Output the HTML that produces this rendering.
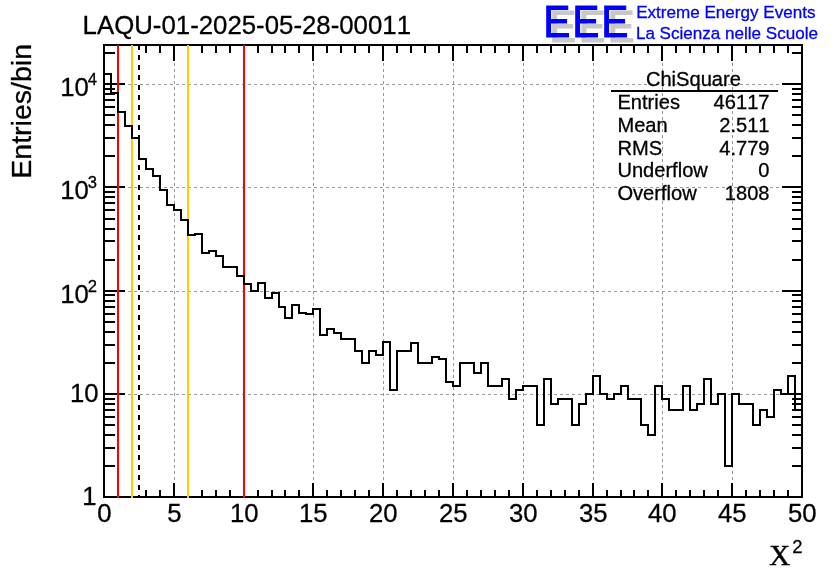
<!DOCTYPE html>
<html><head><meta charset="utf-8"><title>LAQU-01-2025-05-28-00011 ChiSquare</title>
<style>html,body{margin:0;padding:0;background:#fff}svg{display:block}text{font-kerning:none;stroke:#000;stroke-width:0.3px;font-family:"Liberation Sans",Arial,Helvetica,sans-serif;fill:#000}.ser{font-family:"Liberation Serif","Times New Roman",serif}</style></head><body>
<svg width="836" height="572" viewBox="0 0 836 572">
<rect width="836" height="572" fill="#fff"/>
<g stroke="#999999" stroke-width="1" stroke-dasharray="3 3" shape-rendering="crispEdges" fill="none">
<line x1="174.5" y1="45.0" x2="174.5" y2="497.0"/>
<line x1="244.5" y1="45.0" x2="244.5" y2="497.0"/>
<line x1="313.5" y1="45.0" x2="313.5" y2="497.0"/>
<line x1="383.5" y1="45.0" x2="383.5" y2="497.0"/>
<line x1="453.5" y1="45.0" x2="453.5" y2="497.0"/>
<line x1="523.5" y1="45.0" x2="523.5" y2="497.0"/>
<line x1="593.5" y1="45.0" x2="593.5" y2="497.0"/>
<line x1="662.5" y1="45.0" x2="662.5" y2="497.0"/>
<line x1="732.5" y1="45.0" x2="732.5" y2="497.0"/>
<line x1="104.0" y1="394.5" x2="802.0" y2="394.5"/>
<line x1="104.0" y1="291.5" x2="802.0" y2="291.5"/>
<line x1="104.0" y1="187.5" x2="802.0" y2="187.5"/>
<line x1="104.0" y1="84.5" x2="802.0" y2="84.5"/>
</g>
<g stroke="#000" stroke-width="2" shape-rendering="crispEdges" fill="none">
<rect x="104.0" y="45.0" width="698.0" height="452.0"/>
<line x1="118" y1="497.0" x2="118" y2="490.0"/>
<line x1="118" y1="45.0" x2="118" y2="53.0"/>
<line x1="132" y1="497.0" x2="132" y2="490.0"/>
<line x1="132" y1="45.0" x2="132" y2="53.0"/>
<line x1="146" y1="497.0" x2="146" y2="490.0"/>
<line x1="146" y1="45.0" x2="146" y2="53.0"/>
<line x1="160" y1="497.0" x2="160" y2="490.0"/>
<line x1="160" y1="45.0" x2="160" y2="53.0"/>
<line x1="174" y1="497.0" x2="174" y2="483.0"/>
<line x1="174" y1="45.0" x2="174" y2="61.0"/>
<line x1="188" y1="497.0" x2="188" y2="490.0"/>
<line x1="188" y1="45.0" x2="188" y2="53.0"/>
<line x1="202" y1="497.0" x2="202" y2="490.0"/>
<line x1="202" y1="45.0" x2="202" y2="53.0"/>
<line x1="216" y1="497.0" x2="216" y2="490.0"/>
<line x1="216" y1="45.0" x2="216" y2="53.0"/>
<line x1="230" y1="497.0" x2="230" y2="490.0"/>
<line x1="230" y1="45.0" x2="230" y2="53.0"/>
<line x1="244" y1="497.0" x2="244" y2="483.0"/>
<line x1="244" y1="45.0" x2="244" y2="61.0"/>
<line x1="258" y1="497.0" x2="258" y2="490.0"/>
<line x1="258" y1="45.0" x2="258" y2="53.0"/>
<line x1="272" y1="497.0" x2="272" y2="490.0"/>
<line x1="272" y1="45.0" x2="272" y2="53.0"/>
<line x1="285" y1="497.0" x2="285" y2="490.0"/>
<line x1="285" y1="45.0" x2="285" y2="53.0"/>
<line x1="299" y1="497.0" x2="299" y2="490.0"/>
<line x1="299" y1="45.0" x2="299" y2="53.0"/>
<line x1="313" y1="497.0" x2="313" y2="483.0"/>
<line x1="313" y1="45.0" x2="313" y2="61.0"/>
<line x1="327" y1="497.0" x2="327" y2="490.0"/>
<line x1="327" y1="45.0" x2="327" y2="53.0"/>
<line x1="341" y1="497.0" x2="341" y2="490.0"/>
<line x1="341" y1="45.0" x2="341" y2="53.0"/>
<line x1="355" y1="497.0" x2="355" y2="490.0"/>
<line x1="355" y1="45.0" x2="355" y2="53.0"/>
<line x1="369" y1="497.0" x2="369" y2="490.0"/>
<line x1="369" y1="45.0" x2="369" y2="53.0"/>
<line x1="383" y1="497.0" x2="383" y2="483.0"/>
<line x1="383" y1="45.0" x2="383" y2="61.0"/>
<line x1="397" y1="497.0" x2="397" y2="490.0"/>
<line x1="397" y1="45.0" x2="397" y2="53.0"/>
<line x1="411" y1="497.0" x2="411" y2="490.0"/>
<line x1="411" y1="45.0" x2="411" y2="53.0"/>
<line x1="425" y1="497.0" x2="425" y2="490.0"/>
<line x1="425" y1="45.0" x2="425" y2="53.0"/>
<line x1="439" y1="497.0" x2="439" y2="490.0"/>
<line x1="439" y1="45.0" x2="439" y2="53.0"/>
<line x1="453" y1="497.0" x2="453" y2="483.0"/>
<line x1="453" y1="45.0" x2="453" y2="61.0"/>
<line x1="467" y1="497.0" x2="467" y2="490.0"/>
<line x1="467" y1="45.0" x2="467" y2="53.0"/>
<line x1="481" y1="497.0" x2="481" y2="490.0"/>
<line x1="481" y1="45.0" x2="481" y2="53.0"/>
<line x1="495" y1="497.0" x2="495" y2="490.0"/>
<line x1="495" y1="45.0" x2="495" y2="53.0"/>
<line x1="509" y1="497.0" x2="509" y2="490.0"/>
<line x1="509" y1="45.0" x2="509" y2="53.0"/>
<line x1="523" y1="497.0" x2="523" y2="483.0"/>
<line x1="523" y1="45.0" x2="523" y2="61.0"/>
<line x1="537" y1="497.0" x2="537" y2="490.0"/>
<line x1="537" y1="45.0" x2="537" y2="53.0"/>
<line x1="551" y1="497.0" x2="551" y2="490.0"/>
<line x1="551" y1="45.0" x2="551" y2="53.0"/>
<line x1="565" y1="497.0" x2="565" y2="490.0"/>
<line x1="565" y1="45.0" x2="565" y2="53.0"/>
<line x1="579" y1="497.0" x2="579" y2="490.0"/>
<line x1="579" y1="45.0" x2="579" y2="53.0"/>
<line x1="593" y1="497.0" x2="593" y2="483.0"/>
<line x1="593" y1="45.0" x2="593" y2="61.0"/>
<line x1="607" y1="497.0" x2="607" y2="490.0"/>
<line x1="607" y1="45.0" x2="607" y2="53.0"/>
<line x1="621" y1="497.0" x2="621" y2="490.0"/>
<line x1="621" y1="45.0" x2="621" y2="53.0"/>
<line x1="634" y1="497.0" x2="634" y2="490.0"/>
<line x1="634" y1="45.0" x2="634" y2="53.0"/>
<line x1="648" y1="497.0" x2="648" y2="490.0"/>
<line x1="648" y1="45.0" x2="648" y2="53.0"/>
<line x1="662" y1="497.0" x2="662" y2="483.0"/>
<line x1="662" y1="45.0" x2="662" y2="61.0"/>
<line x1="676" y1="497.0" x2="676" y2="490.0"/>
<line x1="676" y1="45.0" x2="676" y2="53.0"/>
<line x1="690" y1="497.0" x2="690" y2="490.0"/>
<line x1="690" y1="45.0" x2="690" y2="53.0"/>
<line x1="704" y1="497.0" x2="704" y2="490.0"/>
<line x1="704" y1="45.0" x2="704" y2="53.0"/>
<line x1="718" y1="497.0" x2="718" y2="490.0"/>
<line x1="718" y1="45.0" x2="718" y2="53.0"/>
<line x1="732" y1="497.0" x2="732" y2="483.0"/>
<line x1="732" y1="45.0" x2="732" y2="61.0"/>
<line x1="746" y1="497.0" x2="746" y2="490.0"/>
<line x1="746" y1="45.0" x2="746" y2="53.0"/>
<line x1="760" y1="497.0" x2="760" y2="490.0"/>
<line x1="760" y1="45.0" x2="760" y2="53.0"/>
<line x1="774" y1="497.0" x2="774" y2="490.0"/>
<line x1="774" y1="45.0" x2="774" y2="53.0"/>
<line x1="788" y1="497.0" x2="788" y2="490.0"/>
<line x1="788" y1="45.0" x2="788" y2="53.0"/>
<line x1="104.0" y1="466" x2="115.0" y2="466"/>
<line x1="802.0" y1="466" x2="792.0" y2="466"/>
<line x1="104.0" y1="448" x2="115.0" y2="448"/>
<line x1="802.0" y1="448" x2="792.0" y2="448"/>
<line x1="104.0" y1="435" x2="115.0" y2="435"/>
<line x1="802.0" y1="435" x2="792.0" y2="435"/>
<line x1="104.0" y1="425" x2="115.0" y2="425"/>
<line x1="802.0" y1="425" x2="792.0" y2="425"/>
<line x1="104.0" y1="417" x2="115.0" y2="417"/>
<line x1="802.0" y1="417" x2="792.0" y2="417"/>
<line x1="104.0" y1="410" x2="115.0" y2="410"/>
<line x1="802.0" y1="410" x2="792.0" y2="410"/>
<line x1="104.0" y1="404" x2="115.0" y2="404"/>
<line x1="802.0" y1="404" x2="792.0" y2="404"/>
<line x1="104.0" y1="399" x2="115.0" y2="399"/>
<line x1="802.0" y1="399" x2="792.0" y2="399"/>
<line x1="104.0" y1="394" x2="125.0" y2="394"/>
<line x1="802.0" y1="394" x2="782.0" y2="394"/>
<line x1="104.0" y1="363" x2="115.0" y2="363"/>
<line x1="802.0" y1="363" x2="792.0" y2="363"/>
<line x1="104.0" y1="345" x2="115.0" y2="345"/>
<line x1="802.0" y1="345" x2="792.0" y2="345"/>
<line x1="104.0" y1="332" x2="115.0" y2="332"/>
<line x1="802.0" y1="332" x2="792.0" y2="332"/>
<line x1="104.0" y1="322" x2="115.0" y2="322"/>
<line x1="802.0" y1="322" x2="792.0" y2="322"/>
<line x1="104.0" y1="314" x2="115.0" y2="314"/>
<line x1="802.0" y1="314" x2="792.0" y2="314"/>
<line x1="104.0" y1="307" x2="115.0" y2="307"/>
<line x1="802.0" y1="307" x2="792.0" y2="307"/>
<line x1="104.0" y1="301" x2="115.0" y2="301"/>
<line x1="802.0" y1="301" x2="792.0" y2="301"/>
<line x1="104.0" y1="295" x2="115.0" y2="295"/>
<line x1="802.0" y1="295" x2="792.0" y2="295"/>
<line x1="104.0" y1="291" x2="125.0" y2="291"/>
<line x1="802.0" y1="291" x2="782.0" y2="291"/>
<line x1="104.0" y1="260" x2="115.0" y2="260"/>
<line x1="802.0" y1="260" x2="792.0" y2="260"/>
<line x1="104.0" y1="241" x2="115.0" y2="241"/>
<line x1="802.0" y1="241" x2="792.0" y2="241"/>
<line x1="104.0" y1="229" x2="115.0" y2="229"/>
<line x1="802.0" y1="229" x2="792.0" y2="229"/>
<line x1="104.0" y1="219" x2="115.0" y2="219"/>
<line x1="802.0" y1="219" x2="792.0" y2="219"/>
<line x1="104.0" y1="210" x2="115.0" y2="210"/>
<line x1="802.0" y1="210" x2="792.0" y2="210"/>
<line x1="104.0" y1="203" x2="115.0" y2="203"/>
<line x1="802.0" y1="203" x2="792.0" y2="203"/>
<line x1="104.0" y1="197" x2="115.0" y2="197"/>
<line x1="802.0" y1="197" x2="792.0" y2="197"/>
<line x1="104.0" y1="192" x2="115.0" y2="192"/>
<line x1="802.0" y1="192" x2="792.0" y2="192"/>
<line x1="104.0" y1="187" x2="125.0" y2="187"/>
<line x1="802.0" y1="187" x2="782.0" y2="187"/>
<line x1="104.0" y1="156" x2="115.0" y2="156"/>
<line x1="802.0" y1="156" x2="792.0" y2="156"/>
<line x1="104.0" y1="138" x2="115.0" y2="138"/>
<line x1="802.0" y1="138" x2="792.0" y2="138"/>
<line x1="104.0" y1="125" x2="115.0" y2="125"/>
<line x1="802.0" y1="125" x2="792.0" y2="125"/>
<line x1="104.0" y1="115" x2="115.0" y2="115"/>
<line x1="802.0" y1="115" x2="792.0" y2="115"/>
<line x1="104.0" y1="107" x2="115.0" y2="107"/>
<line x1="802.0" y1="107" x2="792.0" y2="107"/>
<line x1="104.0" y1="100" x2="115.0" y2="100"/>
<line x1="802.0" y1="100" x2="792.0" y2="100"/>
<line x1="104.0" y1="94" x2="115.0" y2="94"/>
<line x1="802.0" y1="94" x2="792.0" y2="94"/>
<line x1="104.0" y1="89" x2="115.0" y2="89"/>
<line x1="802.0" y1="89" x2="792.0" y2="89"/>
<line x1="104.0" y1="84" x2="125.0" y2="84"/>
<line x1="802.0" y1="84" x2="782.0" y2="84"/>
<line x1="104.0" y1="53" x2="115.0" y2="53"/>
<line x1="802.0" y1="53" x2="792.0" y2="53"/>
</g>
<g stroke-width="2" shape-rendering="crispEdges" fill="none">
<line x1="118" y1="45.0" x2="118" y2="498.0" stroke="#ff0000"/>
<line x1="132" y1="45.0" x2="132" y2="498.0" stroke="#ffcc00"/>
<line x1="188" y1="45.0" x2="188" y2="498.0" stroke="#ffcc00"/>
<line x1="244" y1="45.0" x2="244" y2="498.0" stroke="#ff0000"/>
<line x1="139" y1="45.0" x2="139" y2="497.0" stroke="#000" stroke-dasharray="4.6 5.4"/>
</g>
<path d="M104 74H111V93H118V112H125V126H132V138H139V159H146V169H153V176H160V190H167V205H174V210H181V220H188V235H195V234H202V253H209V251H216V256H223V267H230V267H237V276H244V284H251V291H258V283H265V298H272V293H279V307H285V318H292V305H299V313H306V314H313V309H320V335H327V329H334V333H341V339H348V339H355V351H362V363H369V351H376V355H383V342H390V390H397V351H404V351H411V343H418V363H425V363H432V357H439V359H446V382H453V386H460V363H467V363H474V373H481V363H488V386H495V386H502V379H509V399H516V390H523V386H530V386H537V425H544V379H551V404H558V399H565V399H572V425H579V404H586V394H593V376H600V394H607V399H614V394H621V386H628V399H634V399H641V425H648V435H655V386H662V399H669V410H676V410H683V386H690V410H697V404H704V379H711V404H718V394H725V466H732V394H739V404H746V404H753V425H760V410H767V417H774V390H781V394H788V376H795V410H802" stroke="#000" stroke-width="2" fill="none" stroke-linejoin="miter" stroke-linecap="square" shape-rendering="crispEdges"/>
<text x="82.6" y="34" font-size="25.8">LAQU-01-2025-05-28-00011</text>
<g font-size="44.5" stroke-width="1.25" stroke-linejoin="miter" letter-spacing="2.6"><text transform="translate(549.6,41.85) scale(0.9,1)" style="fill:#c8c8c8;stroke:#c8c8c8;stroke-width:1.25px">EEE</text><text transform="translate(543.4,37.05) scale(0.9,1)" style="fill:#0000ff;stroke:#0000ff;stroke-width:1.25px">EEE</text></g>
<text x="636.2" y="17.7" font-size="17.07" style="fill:#0000ff;stroke:#0000ff">Extreme Energy Events</text>
<text x="635.9" y="38.8" font-size="17.07" style="fill:#0000ff;stroke:#0000ff">La Scienza nelle Scuole</text>
<text x="693.4" y="85.6" font-size="20.1" text-anchor="middle">ChiSquare</text>
<line x1="610.5" y1="91" x2="778" y2="91" stroke="#000" stroke-width="2" shape-rendering="crispEdges"/>
<text x="617.4" y="109.2" font-size="20.1">Entries</text><text x="769.5" y="109.2" font-size="20.1" text-anchor="end">46117</text>
<text x="617.4" y="131.9" font-size="20.1">Mean</text><text x="769.5" y="131.9" font-size="20.1" text-anchor="end">2.511</text>
<text x="617.4" y="154.6" font-size="20.1">RMS</text><text x="769.5" y="154.6" font-size="20.1" text-anchor="end">4.779</text>
<text x="617.4" y="177.4" font-size="20.1">Underflow</text><text x="769.5" y="177.4" font-size="20.1" text-anchor="end">0</text>
<text x="617.4" y="200.2" font-size="20.1">Overflow</text><text x="769.5" y="200.2" font-size="20.1" text-anchor="end">1808</text>
<text x="60.3" y="302.9" font-size="25.7">10<tspan font-size="16.6" dy="-11.2" dx="-1.2">2</tspan></text>
<text x="60.3" y="198.9" font-size="25.7">10<tspan font-size="16.6" dy="-11.2" dx="-1.2">3</tspan></text>
<text x="60.3" y="95.9" font-size="25.7">10<tspan font-size="16.6" dy="-11.2" dx="-1.2">4</tspan></text>
<text x="98.5" y="401.6" font-size="25.7" text-anchor="end">10</text>
<text x="96.5" y="504.8" font-size="25.7" text-anchor="end">1</text>
<text x="104.3" y="522.2" font-size="25.7" text-anchor="middle">0</text>
<text x="174.3" y="522.2" font-size="25.7" text-anchor="middle">5</text>
<text x="244.3" y="522.2" font-size="25.7" text-anchor="middle">10</text>
<text x="313.3" y="522.2" font-size="25.7" text-anchor="middle">15</text>
<text x="383.3" y="522.2" font-size="25.7" text-anchor="middle">20</text>
<text x="453.3" y="522.2" font-size="25.7" text-anchor="middle">25</text>
<text x="523.3" y="522.2" font-size="25.7" text-anchor="middle">30</text>
<text x="593.3" y="522.2" font-size="25.7" text-anchor="middle">35</text>
<text x="662.3" y="522.2" font-size="25.7" text-anchor="middle">40</text>
<text x="732.3" y="522.2" font-size="25.7" text-anchor="middle">45</text>
<text x="802.3" y="522.2" font-size="25.7" text-anchor="middle">50</text>
<text transform="translate(31.2,44) rotate(-90)" font-size="28.5" text-anchor="end">Entries/bin</text>
<text x="769.3" y="564.8" font-size="28.8" class="ser" style="stroke-width:0.45px">X</text><text x="792.3" y="552.6" font-size="18.4">2</text>
</svg></body></html>
